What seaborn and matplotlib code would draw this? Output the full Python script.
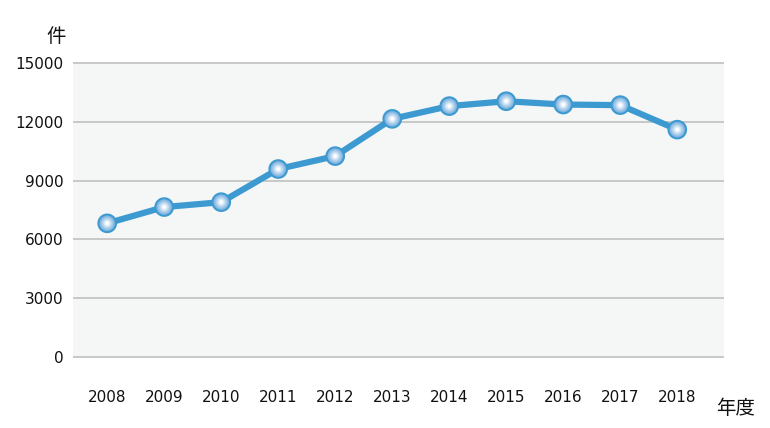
import numpy as np
import pandas as pd
import seaborn as sns
import matplotlib.pyplot as plt
from matplotlib.colors import LinearSegmentedColormap

# data
years = ["2008", "2009", "2010", "2011", "2012", "2013", "2014", "2015", "2016", "2017", "2018"]
counts = [6820, 7650, 7900, 9590, 10250, 12150, 12800, 13050, 12880, 12850, 11600]
y_ticks = [0, 3000, 6000, 9000, 12000, 15000]

df = pd.DataFrame({"year": years, "count": counts})
df["x"] = np.arange(len(df))

sns.set_style("white")
plt.rcParams['font.family'] = ['DejaVu Sans', 'Noto Sans CJK JP']

fig = plt.figure(figsize=(7.7, 4.28), dpi=100)
ax = fig.add_axes([0.0948, 0.1659, 0.8455, 0.6869])
ax.set_facecolor("#f5f7f7")

# horizontal grid lines (not clipped, so 0 and 15000 show full width)
ax.hlines(y_ticks, -0.6, 10.82, color="#c8c8c8", linewidth=1.4, clip_on=False, zorder=1)

line_color = "#3d9ad0"
sns.lineplot(data=df, x="x", y="count", color=line_color, linewidth=4.5, ax=ax, zorder=3)

# gradient markers: blue ring then stacked discs fading to white
sns.scatterplot(data=df, x="x", y="count", s=200, color=line_color, edgecolor="none", ax=ax, zorder=4)
grad = LinearSegmentedColormap.from_list("grad", ["#7ab2e0", "#b9d6f0", "#ffffff"])
sizes = np.linspace(11.2, 2.0, 14) ** 2
for k, s in enumerate(sizes):
    sns.scatterplot(data=df, x="x", y="count", s=s, color=grad(k / (len(sizes) - 1)),
                    edgecolor="none", ax=ax, zorder=5 + k)

ax.set_xlim(-0.6, 10.82)
ax.set_ylim(0, 15000)
ax.set_yticks(y_ticks)
ax.set_yticklabels([str(v) for v in y_ticks])
ax.set_xticks(df["x"])
ax.set_xticklabels(years)
for sp in ax.spines.values():
    sp.set_visible(False)
ax.tick_params(axis="both", length=0, labelsize=11, colors="#111111")
ax.tick_params(axis="x", pad=24)
ax.tick_params(axis="y", pad=7)
ax.set_xlabel("")
ax.set_ylabel("")

fig.text(56 / 770, 1 - 37 / 428, "件", fontsize=14, ha="center", va="center", color="#111111")
fig.text(736 / 770, 1 - 409 / 428, "年度", fontsize=14, ha="center", va="center", color="#111111")

fig.savefig("out.png", dpi=100)
